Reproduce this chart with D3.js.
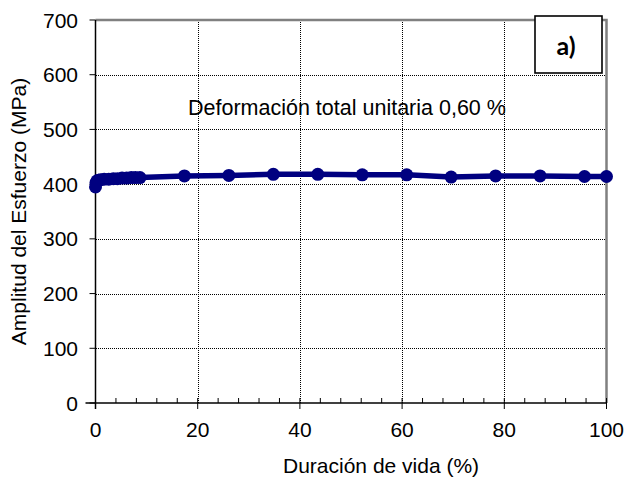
<!DOCTYPE html>
<html>
<head>
<meta charset="utf-8">
<script src="https://cdn.jsdelivr.net/npm/d3@7"></script>
<style>
  html, body { margin: 0; padding: 0; background: #fff; }
  svg { display: block; font-family: "Liberation Sans", Arial, sans-serif; }
</style>
</head>
<body>
<svg id="chart" width="628" height="482"></svg>
<script>
// Life fraction (%) and stress amplitude (MPa)
const lifePct = [0, 0.1, 0.3, 0.6, 1.0, 1.7, 2.6, 3.5, 4.3, 5.2, 6.1, 7.0, 7.8, 8.7,
                 17.4, 26.1, 34.8, 43.5, 52.2, 60.9, 69.6, 78.3, 87.0, 95.7, 100];
const stressMPa = [395, 403, 406, 407, 408, 409, 409, 410, 410, 411, 411, 412, 412, 412,
                   415, 416, 418, 418, 417, 417, 413, 415, 415, 414, 414];

const xTicks = [0, 20, 40, 60, 80, 100];
const yTicks = [0, 100, 200, 300, 400, 500, 600, 700];
const xTitle = "Duración de vida (%)";
const yTitle = "Amplitud del Esfuerzo (MPa)";
const note = "Deformación total unitaria 0,60 %";
const panelLabel = "a)";

const svg = d3.select("#chart");
const mLeft = 95.5, mRight = 606.5, mTop = 20, mBottom = 403;
const fs = 21;

const x = d3.scaleLinear().domain([0, 100]).range([mLeft, mRight]);
const y = d3.scaleLinear().domain([0, 700]).range([mBottom, mTop]);

// dotted grid
const grid = svg.append("g");
grid.selectAll(".hg").data(yTicks.filter(d => d > 0 && d < 700)).join("line")
  .attr("x1", 96).attr("x2", 606)
  .attr("y1", d => Math.round(y(d)) + 0.5).attr("y2", d => Math.round(y(d)) + 0.5)
  .attr("stroke", "#000").attr("stroke-width", 1).attr("stroke-dasharray", "1,1");
grid.selectAll(".vg").data(xTicks.filter(d => d > 0 && d < 100)).join("line")
  .attr("x1", d => Math.round(x(d)) + 0.5).attr("x2", d => Math.round(x(d)) + 0.5)
  .attr("y1", mTop).attr("y2", mBottom)
  .attr("stroke", "#000").attr("stroke-width", 1).attr("stroke-dasharray", "1,1");

// plot frame (top and right edges)
svg.append("path")
  .attr("d", `M${mLeft},${mTop}H${mRight}V${mBottom}`)
  .attr("fill", "none").attr("stroke", "#808080").attr("stroke-width", 2.5);

// x axis: major ticks crossing, minor ticks inside
const xAxis = svg.append("g");
xAxis.append("line").attr("x1", mLeft - 10).attr("x2", mRight).attr("y1", mBottom).attr("y2", mBottom)
  .attr("stroke", "#000").attr("stroke-width", 1.5);
const minorX = d3.range(0, 101, 4).filter(d => d % 20 !== 0);
xAxis.selectAll(".mx").data(minorX).join("line")
  .attr("x1", d => x(d)).attr("x2", d => x(d)).attr("y1", mBottom).attr("y2", mBottom - 5)
  .attr("stroke", "#000").attr("stroke-width", 1);
xAxis.selectAll(".Mx").data(xTicks).join("line")
  .attr("x1", d => x(d)).attr("x2", d => x(d)).attr("y1", mBottom - 5).attr("y2", mBottom + 6)
  .attr("stroke", "#000").attr("stroke-width", 1);
xAxis.selectAll(".tx").data(xTicks).join("text")
  .attr("x", d => x(d)).attr("y", mBottom + 33.5)
  .attr("text-anchor", "middle").attr("font-size", fs).text(d => d);

// y axis
const yAxis = svg.append("g");
yAxis.append("line").attr("x1", mLeft).attr("x2", mLeft).attr("y1", mTop).attr("y2", mBottom + 6)
  .attr("stroke", "#000").attr("stroke-width", 1.5);
yAxis.selectAll(".My").data(yTicks).join("line")
  .attr("x1", mLeft - 6).attr("x2", mLeft).attr("y1", d => y(d)).attr("y2", d => y(d))
  .attr("stroke", "#000").attr("stroke-width", 1);
yAxis.selectAll(".ty").data(yTicks).join("text")
  .attr("x", 78).attr("y", d => y(d) + 7.5)
  .attr("text-anchor", "end").attr("font-size", fs).text(d => d);

// axis titles
svg.append("text").attr("x", 283).attr("y", 473)
  .attr("text-anchor", "start").attr("font-size", fs).text(xTitle);
svg.append("text").attr("transform", `translate(26,${(mTop + mBottom) / 2}) rotate(-90)`)
  .attr("text-anchor", "middle").attr("font-size", fs).text(yTitle);

// series
const pts = lifePct.map((v, i) => [v, stressMPa[i]]);
svg.append("path").datum(pts)
  .attr("d", d3.line().x(d => x(d[0])).y(d => y(d[1])))
  .attr("fill", "none").attr("stroke", "#000080").attr("stroke-width", 5.5)
  .attr("stroke-linejoin", "round");
svg.selectAll(".pt").data(pts).join("circle")
  .attr("cx", d => x(d[0])).attr("cy", d => y(d[1])).attr("r", 6.5)
  .attr("fill", "#000080");

// annotation
svg.append("text").attr("x", 188).attr("y", 115)
  .attr("text-anchor", "start").attr("font-size", 21.5).text(note);

// panel label box
svg.append("rect").attr("x", 535).attr("y", 16).attr("width", 67).attr("height", 57)
  .attr("fill", "#fff").attr("stroke", "#000").attr("stroke-width", 1.6);
svg.append("text").attr("x", 566).attr("y", 55)
  .attr("text-anchor", "middle").attr("font-size", 25).attr("font-weight", "bold")
  .attr("font-family", "Lato, 'Open Sans', sans-serif").text(panelLabel);
</script>
</body>
</html>
